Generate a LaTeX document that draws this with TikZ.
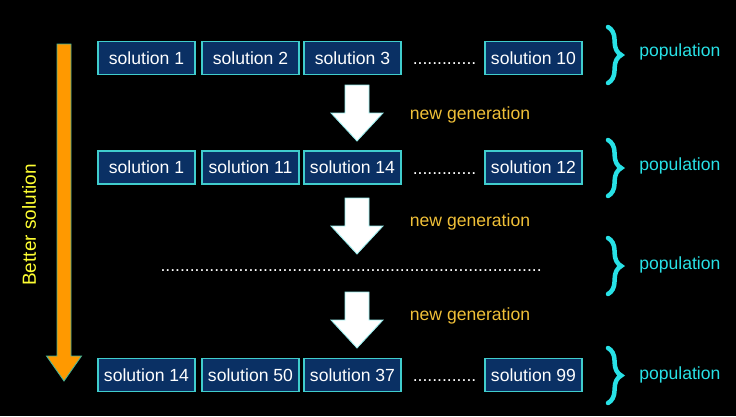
\documentclass[tikz,border=0pt]{standalone}
\usepackage{fontspec}
\setmainfont{Liberation Sans}
\usepackage{tikz}
\usetikzlibrary{decorations.pathreplacing}
\usepackage{xcolor}
\definecolor{boxfill}{RGB}{10,48,100}
\definecolor{boxline}{RGB}{64,205,205}
\definecolor{popcyan}{RGB}{40,225,230}
\definecolor{gengold}{RGB}{240,192,56}
\definecolor{betteryellow}{RGB}{255,255,50}
\definecolor{arroworange}{RGB}{255,153,0}
\definecolor{arrowedge}{RGB}{70,180,150}
\definecolor{blockedge}{RGB}{150,235,235}

\tikzset{
  solbox/.style={draw=boxline, line width=0.8pt, fill=boxfill, text=white,
    minimum width=2.425cm, minimum height=0.825cm, inner sep=0pt},
  dotrow/.style={text=white, anchor=base, inner sep=0pt},
  popbrace/.style={popcyan, line width=3.2pt, line cap=round, decorate,
    decoration={brace, amplitude=0.33cm}},
  poplabel/.style={text=popcyan, anchor=west, inner sep=0pt},
  genlabel/.style={text=gengold, inner sep=0pt}
}

\begin{document}
\begin{tikzpicture}[x=0.025cm, y=-0.025cm, font=\fontsize{12.5}{15}\selectfont]
  \fill[black] (0,0) rectangle (736,416);
  \useasboundingbox (0,0) rectangle (736,416);
  % Better solution arrow
  \filldraw[fill=arroworange, draw=arrowedge, line width=0.6pt]
    (57,44) -- (71,44) -- (71,356) -- (81.5,356) -- (64,381) -- (46.5,356) -- (57,356) -- cycle;
  \node[rotate=90, text=betteryellow, inner sep=0pt, font=\fontsize{13.5}{16}\selectfont] (better) at (29,225) {Better solution};
  % Populations
  \foreach \r/\y/\a/\b/\c/\d in {1/58/1/2/3/10, 2/167.5/1/11/14/12, 4/375/14/50/37/99} {
    \node[solbox] (r\r a) at (146.5,\y) {solution \a};
    \node[solbox] (r\r b) at (250.5,\y) {solution \b};
    \node[solbox] (r\r c) at (352.5,\y) {solution \c};
    \node[dotrow] (r\r dots) at (444.5,\y+6.5) {.............};
    \node[solbox] (r\r d) at (533.5,\y) {solution \d};
  }
  \node[dotrow] (r3dots) at (351,271.5) {..............................................................................};
  % New generation arrows
  \foreach \ya/\yl in {85/115, 198/222, 292/316} {
    \filldraw[fill=white, draw=blockedge, line width=0.6pt]
      (345,\ya) -- (369,\ya) -- (369,\ya+28) -- (383,\ya+28) -- (357,\ya+56) -- (331,\ya+28) -- (345,\ya+28) -- cycle;
    \node[genlabel] (gen\ya) at (470,\yl) {new generation};
  }
  % Braces
  \foreach \ya/\yb/\yl in {27/83/52, 140/196/166, 238/294/265, 348/403/375} {
    \draw[popbrace] (608,\ya) -- (608,\yb);
    \node[poplabel] (pop\yl) at (639,\yl) {population};
  }
\end{tikzpicture}
\end{document}
